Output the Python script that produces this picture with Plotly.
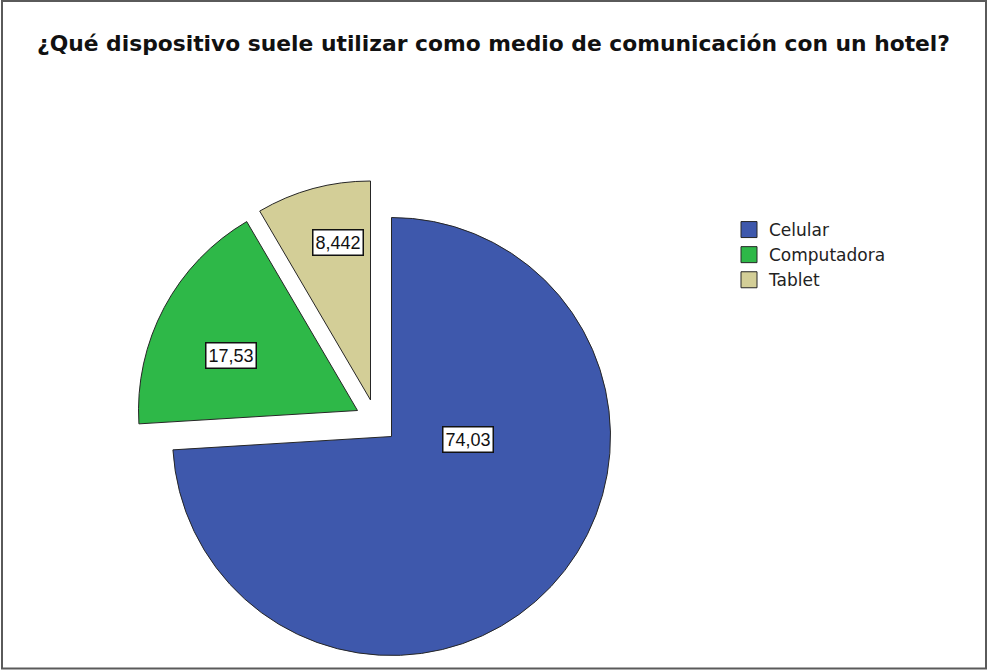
import math
import plotly.graph_objects as go

# ---- data ----
labels = ["Celular", "Computadora", "Tablet"]
values = [74.03, 17.53, 8.442]
title_text = "¿Qué dispositivo suele utilizar como medio de comunicación con un hotel?"

# ---- style / layout ----
W, H = 987, 670
colors = {"Celular": "#3E58AC", "Computadora": "#2EB848", "Tablet": "#D3CE97"}
edge = "#262626"
center = (391.5, 436.5)          # pie centre in px
radius = 219                     # pie radius in px
explode = {"Celular": (0, 0), "Computadora": (-34, -26), "Tablet": (-21, -36.5)}
label_polar = {"Celular": (92, 0.35), "Computadora": (293.5, 0.63), "Tablet": (348.3, 0.734)}


def fmt(v):
    return ("%g" % v).replace(".", ",")


fig = go.Figure()
annotations = []
for lab in labels:
    dx, dy = explode[lab]
    cx, cy = center[0] + dx, center[1] + dy
    dom_x = [(cx - radius) / W, (cx + radius) / W]
    dom_y = [1 - (cy + radius) / H, 1 - (cy - radius) / H]
    fig.add_trace(go.Pie(
        labels=labels, values=values, sort=False, direction="clockwise", rotation=0,
        marker=dict(colors=[colors[l] if l == lab else "rgba(0,0,0,0)" for l in labels],
                    line=dict(color=edge, width=[1 if l == lab else 0 for l in labels])),
        textinfo="none", hoverinfo="skip", showlegend=False,
        domain=dict(x=dom_x, y=dom_y)))
    ang, frac = label_polar[lab]
    px = cx + frac * radius * math.sin(math.radians(ang))
    py = cy - frac * radius * math.cos(math.radians(ang))
    annotations.append(dict(
        x=px / W, y=1 - py / H, xref="paper", yref="paper", showarrow=False,
        text=fmt(values[labels.index(lab)]),
        font=dict(family="Liberation Sans, Arial", size=18, color="#111"),
        bgcolor="white", bordercolor="#111", borderwidth=1.5, borderpad=2,
        xanchor="center", yanchor="middle"))

# legend entries
for lab in labels:
    fig.add_trace(go.Scatter(
        x=[None], y=[None], mode="markers", name=lab,
        marker=dict(symbol="square", size=16, color=colors[lab],
                    line=dict(color=edge, width=1))))

fig.update_xaxes(visible=False)
fig.update_yaxes(visible=False)

fig.update_layout(
    width=W, height=H,
    margin=dict(l=0, r=0, t=0, b=0),
    paper_bgcolor="white", plot_bgcolor="white",
    title=dict(text=title_text, x=0.5, xanchor="center", y=1 - 43 / H, yanchor="middle",
               font=dict(family="DejaVu Sans", size=21.8, color="#111", weight="bold")),
    legend=dict(x=729 / W, y=1 - 212 / H, xanchor="left", yanchor="top",
                font=dict(family="DejaVu Sans", size=17, color="#222"),
                bgcolor="rgba(0,0,0,0)"),
    annotations=annotations,
    shapes=[dict(type="rect", xref="paper", yref="paper",
                 x0=2 / W, x1=986 / W, y0=1 - 668.5 / H, y1=1 - 1 / H,
                 line=dict(color="#5a5a5a", width=2), fillcolor="rgba(0,0,0,0)")],
)

fig.write_html("out.html")
